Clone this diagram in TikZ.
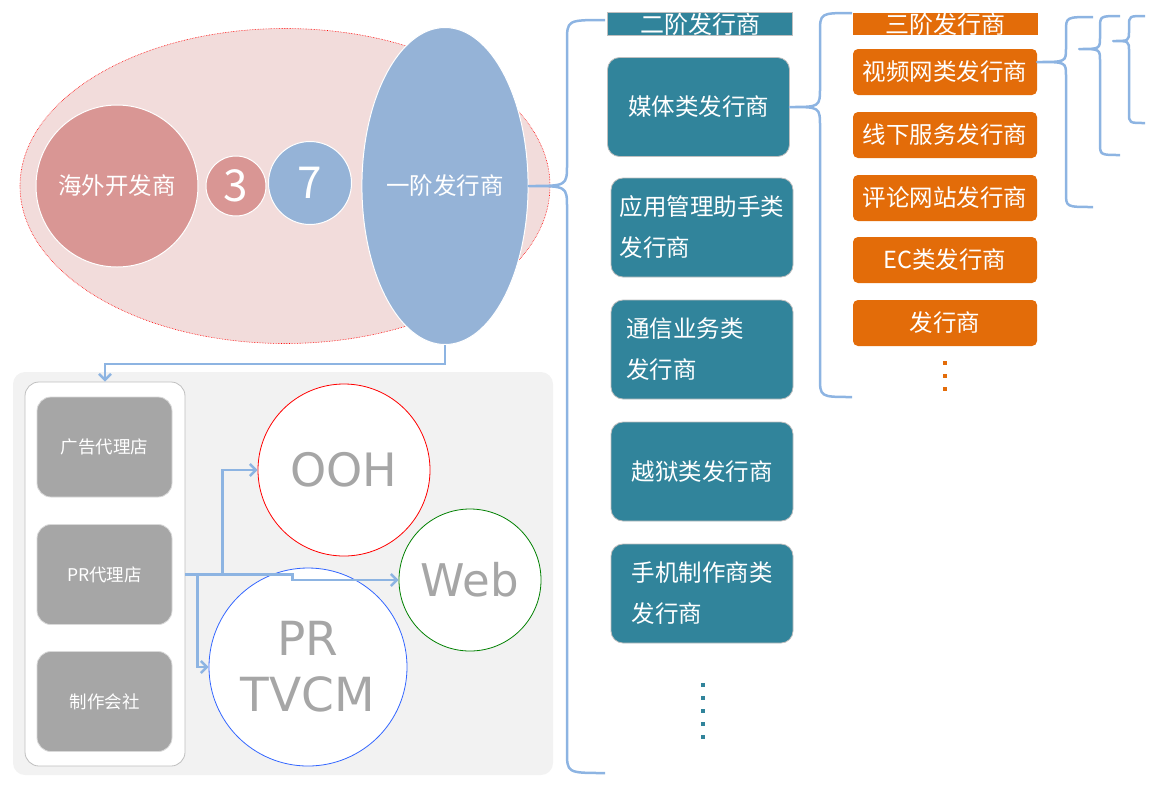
\documentclass[tikz,border=0pt]{standalone}
\usepackage{fontspec}
\setmainfont{Noto Sans CJK SC}
\newfontfamily\roundfont{DejaVu Sans}
\usepackage{tikz}
\usetikzlibrary{arrows.meta,shapes.geometric}
\definecolor{pinkfill}{RGB}{242,220,219}
\definecolor{devred}{RGB}{217,150,148}
\definecolor{pubblue}{RGB}{149,179,215}
\definecolor{tealfill}{RGB}{49,132,155}
\definecolor{orangefill}{RGB}{227,108,9}
\definecolor{linkblue}{RGB}{141,180,226}
\definecolor{agentgray}{RGB}{166,166,166}
\definecolor{panelgray}{RGB}{242,242,242}
\definecolor{mediagreen}{RGB}{0,128,0}
\definecolor{mediablue}{RGB}{51,102,255}
\newcommand{\fs}[2]{\fontsize{#1}{#2}\selectfont}
% curly bracket: end x, spine x, tip, top y, tip y, bottom y, curl
\newcommand{\vbrace}[7]{%
  \draw[bracel] (#1,#4) .. controls (#2,#4) .. (#2,#4+#7)
    -- (#2,#5-#7) .. controls (#2,#5) .. (#3)
    .. controls (#2,#5) .. (#2,#5+#7)
    -- (#2,#6-#7) .. controls (#2,#6) .. (#1,#6);}
\tikzset{
  bubble/.style={circle, draw=white, line width=1pt, inner sep=0pt, text=white},
  second/.style={draw=black!25, line width=0.8pt, fill=tealfill,
                 rounded corners=12pt, minimum width=182pt, minimum height=99pt,
                 inner sep=0pt, align=left, text=white, font=\fs{23.5}{41}},
  third/.style={fill=orangefill, rounded corners=5pt, minimum width=184pt,
                minimum height=46pt, inner sep=0pt, text=white, font=\fs{23.5}{26}},
  header/.style={minimum width=185pt, minimum height=22pt, inner sep=0pt,
                 text=white, font=\fs{24}{26}},
  agent/.style={fill=agentgray, draw=black!15, line width=0.8pt, rounded corners=14pt,
                minimum width=135pt, minimum height=100pt, text=white, font=\fs{17.5}{20}},
  media/.style={circle, fill=white, line width=0.8pt, inner sep=0pt,
                text=agentgray, align=center},
  flow/.style={linkblue, line width=2.5pt, -{Straight Barb[length=6pt,width=12pt]}},
  bracel/.style={linkblue, line width=2.5pt, line join=round},
  ellipsisdots/.style={line width=4pt, dash pattern=on 4pt off 9pt},
}
\begin{document}
\begin{tikzpicture}[x=1pt,y=-1pt]
  \path[use as bounding box] (0,0) rectangle (1153,788);

  % developers and first tier
  \node[ellipse, fill=pinkfill, draw=red, densely dotted, line width=0.6pt,
        minimum width=530pt, minimum height=315pt] (GROUP) at (285,186) {};
  \node[bubble, fill=devred, minimum size=162pt, font=\fs{23.5}{26}] (DEV) at (117,186) {海外开发商};
  \node[bubble, fill=devred, minimum size=60pt, font=\fs{44}{48}] (N3) at (236,186) {3};
  \node[bubble, fill=pubblue, minimum size=83pt, font=\fs{44}{48}] (N7) at (310,183) {7};
  \node[ellipse, fill=pubblue, draw=white, line width=1pt, minimum width=166pt,
        minimum height=317pt, inner sep=0pt, text=white, font=\fs{23.5}{26}] (L1) at (445,186) {一阶发行商};

  % second tier
  \node[header, fill=tealfill, draw=black!25, line width=0.8pt] (H2) at (700,24) {二阶发行商};
  \node[second] (M1) at (698.5,107) {媒体类发行商};
  \node[second] (M2) at (702,227.5) {应用管理助手类\\发行商};
  \node[second, text width=152pt] (M3) at (702,349.5) {通信业务类\\发行商};
  \node[second] (M4) at (702,471.5) {越狱类发行商};
  \node[second] (M5) at (702,593.5) {手机制作商类\\发行商};
  \draw[ellipsisdots, tealfill] (703,683) -- (703,741);

  % third tier
  \node[header, fill=orangefill] (H3) at (945,24) {三阶发行商};
  \node[third] (O1) at (945,72) {视频网类发行商};
  \node[third] (O2) at (945,135) {线下服务发行商};
  \node[third] (O3) at (945,198) {评论网站发行商};
  \node[third] (O4) at (945,260) {EC类发行商};
  \node[third] (O5) at (945,323) {发行商};
  \draw[ellipsisdots, orangefill] (945,361) -- (945,391);

  % brackets
  \coordinate (b3tip) at ([yshift=10pt]O1.east);
  \coordinate (b4tip) at (1079,49);
  \coordinate (b5tip) at (1113,41);
  \vbrace{605}{567}{L1.east}{20}{186}{773}{22}
  \vbrace{852}{820}{M1.east}{13}{107}{397}{20}
  \vbrace{1093}{1066}{b3tip}{17}{62}{207}{14}
  \vbrace{1120}{1100}{b4tip}{16}{49}{155}{12}
  \vbrace{1145}{1129}{b5tip}{16}{41}{123}{10}

  % agencies and media
  \node[fill=panelgray, rounded corners=12pt, minimum width=540pt,
        minimum height=403pt] (PANEL) at (283,573.5) {};
  \node[fill=white, draw=black!25, line width=0.8pt, rounded corners=14pt,
        minimum width=160pt, minimum height=384pt] (AGBOX) at (105,574) {};
  \node[agent] (A1) at (104.5,447) {广告代理店};
  \node[agent] (A2) at (104.5,574.5) {PR代理店};
  \node[agent] (A3) at (104.5,701.5) {制作会社};

  \node[media, draw=red, minimum size=172pt, font=\roundfont\fs{46}{52}] (OOH) at (344,470) {OOH};
  \node[media, draw=mediagreen, minimum size=142pt, font=\roundfont\fs{45}{52}] (WEB) at (470,580) {Web};
  \node[media, draw=mediablue, minimum size=198pt, font=\roundfont\fs{47}{56}] (TVCM) at (308,667) {PR\\TVCM};

  \draw[flow] (L1.south) -- ++(0,19) -| (AGBOX.north);
  \coordinate (PRout) at (AGBOX.east |- A2.east);
  \draw[flow] (PRout) -- ++(37,0) |- (OOH.west);
  \draw[flow] (PRout) -- ++(107,0) |- (WEB.west);
  \draw[flow] (PRout) -- ++(12,0) |- (TVCM.west);
\end{tikzpicture}
\end{document}
